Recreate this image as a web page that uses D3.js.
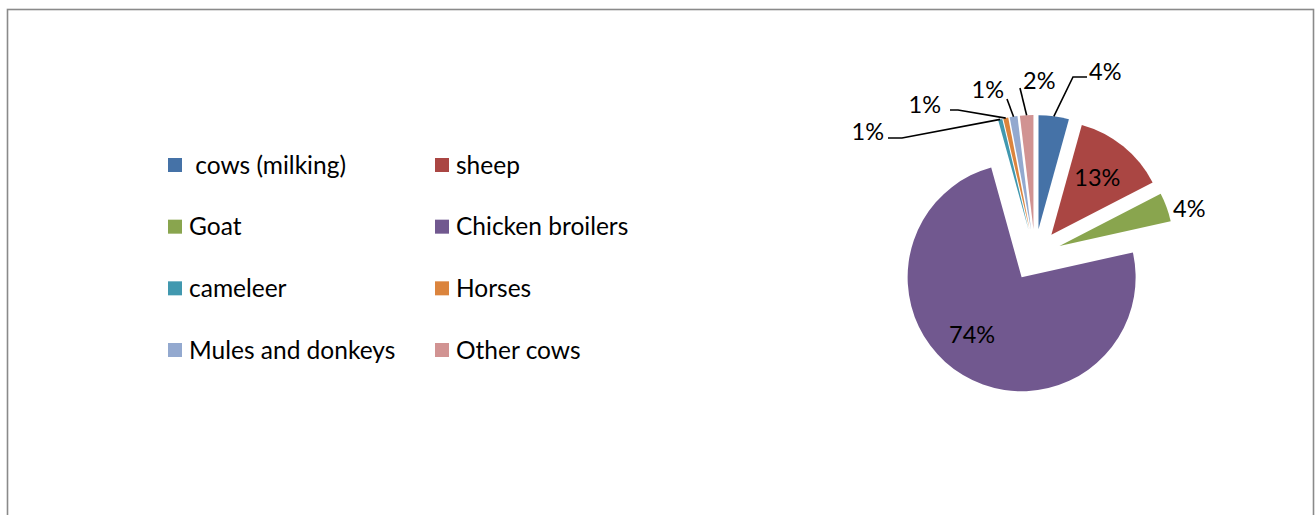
<!DOCTYPE html>
<html lang="en">
<head>
<meta charset="UTF-8">
<script src="https://d3js.org/d3.v7.min.js"></script>
<style>
  body { margin: 0; background: #fff; }
  svg text { font-family: Lato, "Open Sans", sans-serif; fill: #000; white-space: pre; }
</style>
</head>
<body>
<svg id="chart" width="1315" height="515"></svg>
<script>
// data (percent shares)
const names = [" cows (milking)", "sheep", "Goat", "Chicken broilers", "cameleer", "Horses", "Mules and donkeys", "Other cows"];
const values = [4.3, 13.1, 4.1, 74.2, 0.6, 0.7, 1.1, 1.9];
const colors = ["#4572A7", "#AA4643", "#89A54E", "#71588F", "#4198AF", "#DB843D", "#93A9CF", "#D19392"];

const W = 1315, H = 515;
const cx = 1035, cy = 255, radius = 114, explode = 26;
const labelSize = 23.5, legendSize = 24.5;

// label placement per slice: "in" = inside slice, "out" = text with optional leader line
// offsets are relative to pie centre
const labelLayout = [
  { type: "out", line: [[38, -178], [52, -178]], text: [54, -183], anchor: "start" },
  { type: "in", k: 0.64 },
  { type: "out", line: null, text: [138, -46], anchor: "start" },
  { type: "in", k: 0.66, rot: 0.13 },
  { type: "out", line: [[-133, -117], [-147, -117]], text: [-151, -123], anchor: "end" },
  { type: "out", line: [[-77, -145], [-85, -145]], text: [-94, -150], anchor: "end" },
  { type: "out", line: [[-28, -156]], text: [-31, -165], anchor: "end" },
  { type: "out", line: [[-15, -167]], text: [-12, -174], anchor: "start" }
];

const svg = d3.select("#chart");

// chart frame (bottom is cut off in the original)
svg.append("rect")
  .attr("x", 7.5).attr("y", 9.5)
  .attr("width", W - 9).attr("height", H + 20)
  .attr("fill", "none")
  .attr("stroke", "#8a8a8a")
  .attr("stroke-width", 1.6);

const pie = d3.pie().sort(null).value(d => d);
const arcs = pie(values);
const arc = d3.arc().innerRadius(0).outerRadius(radius);

const g = svg.append("g").attr("transform", `translate(${cx},${cy})`);

function mid(d) { return (d.startAngle + d.endAngle) / 2; }
function shift(d) {
  const a = mid(d);
  return [Math.sin(a) * explode, -Math.cos(a) * explode];
}

g.selectAll("path.slice")
  .data(arcs)
  .enter().append("path")
  .attr("class", "slice")
  .attr("transform", d => `translate(${shift(d)})`)
  .attr("d", arc)
  .attr("fill", (d, i) => colors[i]);

// data labels
arcs.forEach((d, i) => {
  const lay = labelLayout[i];
  const txt = Math.round(values[i]) + "%";
  const a = mid(d);
  if (lay.type === "in") {
    const aa = a + (lay.rot || 0);
    const rr = explode + radius * lay.k;
    g.append("text")
      .attr("x", Math.sin(aa) * rr)
      .attr("y", -Math.cos(aa) * rr)
      .attr("dy", "0.35em")
      .attr("text-anchor", "middle")
      .style("font-size", labelSize + "px")
      .text(txt);
  } else {
    if (lay.line) {
      const r0 = explode + radius;
      const pts = [[Math.sin(a) * r0, -Math.cos(a) * r0]].concat(lay.line);
      g.append("path")
        .attr("d", d3.line()(pts))
        .attr("fill", "none")
        .attr("stroke", "#000")
        .attr("stroke-width", 1.6);
    }
    g.append("text")
      .attr("x", lay.text[0])
      .attr("y", lay.text[1])
      .attr("dy", "0.35em")
      .attr("text-anchor", lay.anchor)
      .style("font-size", labelSize + "px")
      .text(txt);
  }
});

// legend, two columns
const colX = [168, 435];
const rowY = d3.scalePoint().domain([0, 1, 2, 3]).range([165, 350]);

const legend = svg.append("g").selectAll("g.item")
  .data(names)
  .enter().append("g")
  .attr("class", "item")
  .attr("transform", (d, i) => `translate(${colX[i % 2]},${rowY(Math.floor(i / 2))})`);

legend.append("rect")
  .attr("x", 0).attr("y", -7)
  .attr("width", 14).attr("height", 14)
  .attr("fill", (d, i) => colors[i]);

legend.append("text")
  .attr("x", 21)
  .attr("dy", "0.35em")
  .style("font-size", legendSize + "px")
  .text(d => d);
</script>
</body>
</html>
